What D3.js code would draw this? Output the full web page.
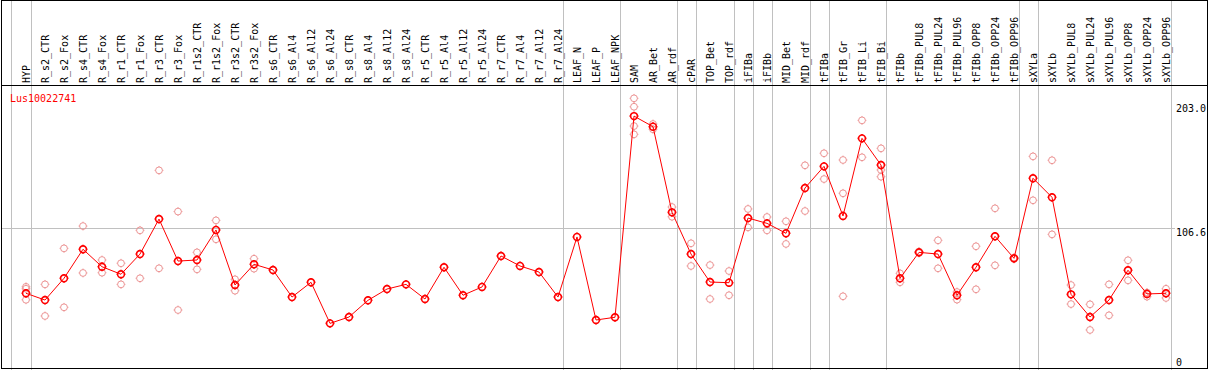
<!DOCTYPE html>
<html lang="en">
<head>
<meta charset="utf-8">
<title>Lus10022741</title>
<script src="https://cdn.jsdelivr.net/npm/d3@7/dist/d3.min.js"></script>
<style>
  body { margin: 0; background: #fff; }
  svg text { font-family: "DejaVu Sans Mono", monospace; font-size: 10px; }
</style>
</head>
<body>
<script>
// sample names, in plotting order
var categories = ["HYP",
  "R_s2_CTR","R_s2_Fox","R_s4_CTR","R_s4_Fox","R_r1_CTR","R_r1_Fox","R_r3_CTR","R_r3_Fox",
  "R_r1s2_CTR","R_r1s2_Fox","R_r3s2_CTR","R_r3s2_Fox",
  "R_s6_CTR","R_s6_Al4","R_s6_Al12","R_s6_Al24","R_s8_CTR","R_s8_Al4","R_s8_Al12","R_s8_Al24",
  "R_r5_CTR","R_r5_Al4","R_r5_Al12","R_r5_Al24","R_r7_CTR","R_r7_Al4","R_r7_Al12","R_r7_Al24",
  "LEAF_N","LEAF_P","LEAF_NPK","SAM","AR_Bet","AR_rdf","cPAR","TOP_Bet","TOP_rdf",
  "iFIBa","iFIBb","MID_Bet","MID_rdf","tFIBa","tFIB_Gr","tFIB_Li","tFIB_Bi",
  "tFIBb","tFIBb_PUL8","tFIBb_PUL24","tFIBb_PUL96","tFIBb_OPP8","tFIBb_OPP24","tFIBb_OPP96",
  "sXYLa","sXYLb","sXYLb_PUL8","sXYLb_PUL24","sXYLb_PUL96","sXYLb_OPP8","sXYLb_OPP24","sXYLb_OPP96"];

// last sample of each group (a grey line is drawn after it)
var group_ends = ["HYP","R_r7_Al24","LEAF_NPK","AR_rdf","cPAR","TOP_rdf","iFIBa","iFIBb",
  "MID_rdf","tFIBa","tFIB_Bi","tFIBb_OPP96","sXYLa","sXYLb_OPP96"];

// mean expression per sample
var means = [56.5,
  51.3,68.1,90.5,77.0,71.2,86.8,113.8,81.4,
  82.2,105.4,62.9,78.9,
  74.5,53.6,65.0,33.3,38.2,51.1,59.8,63.4,
  52.1,76.6,55.0,61.4,85.3,77.6,72.9,53.6,
  100.0,35.9,38.0,193.3,185.1,119.0,86.8,65.2,64.7,
  114.6,110.5,102.8,137.8,154.5,116.2,176.1,155.5,
  68.1,88.1,86.8,55.0,76.6,100.5,83.5,
  145.3,130.6,55.7,38.2,51.3,74.3,56.0,56.5];

// replicate values per sample (empty where only one value)
var replicates = [[61.5,60.0,51.5],
  [63.4,39.0],[91.2,45.7],[108.4,72.2],[82.2,72.4],[79.7,63.4],[105.1,68.1],[151.4,75.8],[119.6,43.6],
  [88.1,75.0],[112.8,98.2],[67.3,58.5],[83.2,75.5],
  [],[],[],[],[],[],[],[],
  [],[],[],[],[],[],[],[],
  [],[],[],[207.0,200.5,185.6,179.2],[187.2,183.1],[123.1,115.6],[95.1,77.6],[78.3,52.1],[73.7,55.0],
  [121.6,107.4],[115.4,105.1],[112.1,94.6],[155.3,120.0],[164.6,144.7],[159.4,133.7,54.2],[190.0,161.5],[168.4,151.7,146.5],
  [71.9,65.0],[88.8,87.6],[97.4,75.8],[57.5,51.6],[92.8,59.6],[122.1,78.1],[84.1,83.0],
  [162.2,128.3],[159.2,102.0],[62.9,48.2],[48.0,28.2],[63.4,39.5],[82.0,66.5],[57.1,53.9],[60.0,52.9]];

var y_ticks = [0, 106.6, 203.0];
var gene_name = "Lus10022741";

var width = 1209, height = 370;
var header_h = 85.5;

var svg = d3.select("body").append("svg")
    .attr("width", width)
    .attr("height", height);

var x = d3.scalePoint().domain(categories).range([26, 1166]);
var y = d3.scaleLinear().domain([0, 213.2]).range([366.5, 90.3]);

function px(v) { return Math.round(v) + 0.5; }

// vertical group separators, full height
var sep_x = [x(categories[0]) - 15.5].concat(group_ends.map(function(c) { return x(c) + 4.5; }));
svg.append("g").selectAll("line")
    .data(sep_x)
    .enter().append("line")
    .attr("x1", function(d) { return px(d); })
    .attr("x2", function(d) { return px(d); })
    .attr("y1", 0).attr("y2", height)
    .attr("stroke", "#c0c0c0").attr("stroke-width", 1);

// horizontal grid at the middle tick
svg.append("line")
    .attr("x1", 1).attr("x2", 1175)
    .attr("y1", px(y(106.6))).attr("y2", px(y(106.6)))
    .attr("stroke", "#c0c0c0").attr("stroke-width", 1);

// frame
svg.append("rect")
    .attr("x", 1.5).attr("y", 0.5)
    .attr("width", 1206).attr("height", 368)
    .attr("fill", "none").attr("stroke", "#000");
svg.append("line")
    .attr("x1", 1).attr("x2", 1208)
    .attr("y1", header_h).attr("y2", header_h)
    .attr("stroke", "#000");

// rotated sample names
svg.append("g").selectAll("text")
    .data(categories)
    .enter().append("text")
    .attr("transform", function(d) { return "translate(" + (x(d) + 4) + ",83) rotate(-90)"; })
    .attr("fill", "#000")
    .text(function(d) { return d; });

// y axis labels on the right
svg.append("g").selectAll("text")
    .data(y_ticks)
    .enter().append("text")
    .attr("x", 1176)
    .attr("y", function(d) { return d === 0 ? y(d) - 0.5 : y(d) + 8; })
    .attr("fill", "#000")
    .text(function(d) { return d === 0 ? "0" : d.toFixed(1); });

// gene label
svg.append("text")
    .attr("x", 10).attr("y", 101.5)
    .attr("fill", "#ff0000")
    .text(gene_name);

// draw a small ring marker with four tiny bumps
function marker(g, color, sw) {
    g.append("circle").attr("r", 3.4)
        .attr("fill", "none").attr("stroke", color).attr("stroke-width", sw);
    [[0, -1], [0, 1], [-1, 0], [1, 0]].forEach(function(d) {
        g.append("line")
            .attr("x1", d[0] * 3.4).attr("y1", d[1] * 3.4)
            .attr("x2", d[0] * 4.4).attr("y2", d[1] * 4.4)
            .attr("stroke", color).attr("stroke-width", sw);
    });
}

// replicate points
var rep_pts = [];
categories.forEach(function(c, i) {
    replicates[i].forEach(function(v) { rep_pts.push([c, v]); });
});
svg.append("g").selectAll("g")
    .data(rep_pts)
    .enter().append("g")
    .attr("transform", function(d) { return "translate(" + x(d[0]) + "," + y(d[1]) + ")"; })
    .each(function() { marker(d3.select(this), "#ec9494", 1); });

// mean line
var line = d3.line()
    .x(function(d, i) { return x(categories[i]); })
    .y(function(d) { return y(d); });
svg.append("path")
    .datum(means)
    .attr("d", line)
    .attr("fill", "none")
    .attr("stroke", "#ff0000")
    .attr("stroke-width", 1);

// mean points
svg.append("g").selectAll("g")
    .data(means)
    .enter().append("g")
    .attr("transform", function(d, i) { return "translate(" + x(categories[i]) + "," + y(d) + ")"; })
    .each(function() { marker(d3.select(this), "#ff0000", 1.6); });
</script>
</body>
</html>
